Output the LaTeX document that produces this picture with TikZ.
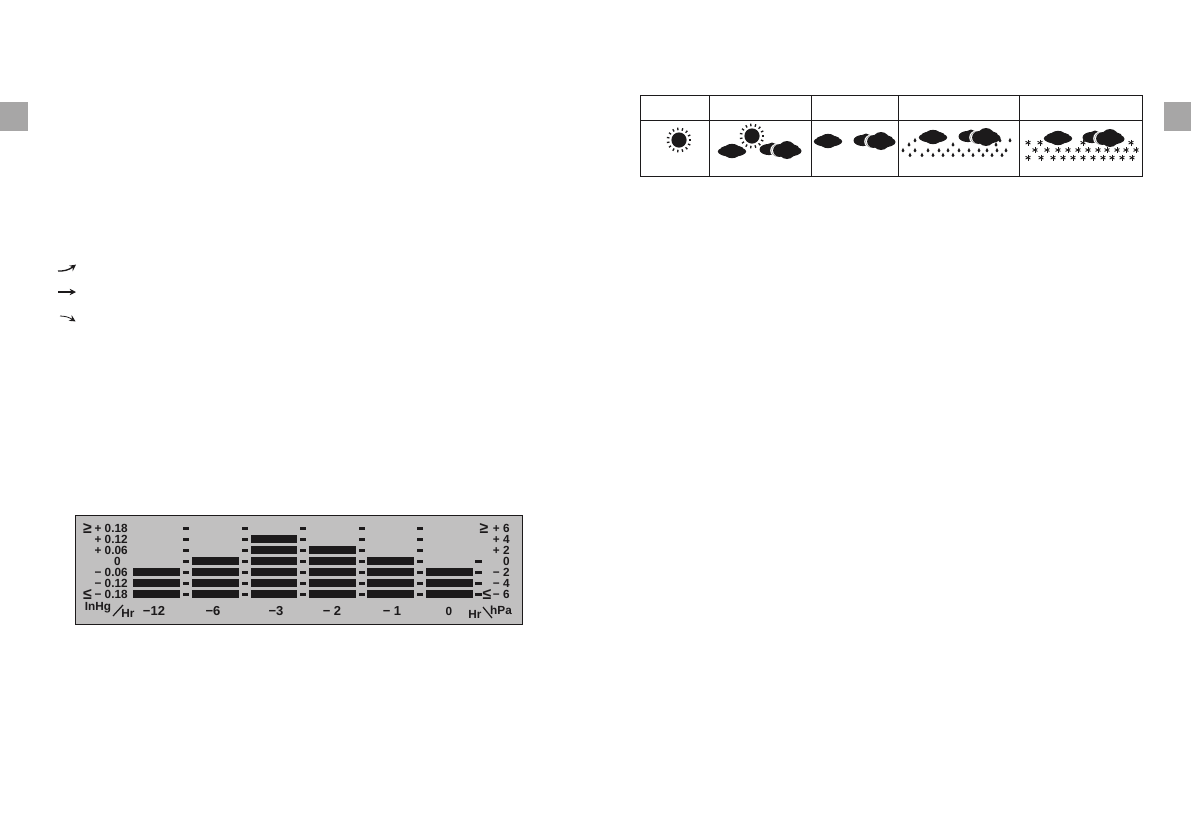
\documentclass[tikz,border=0pt]{standalone}
\usepackage{fontspec}
\setmainfont{Liberation Sans}
\usepackage{xcolor}
\usetikzlibrary{arrows.meta,positioning,calc,bending}
\definecolor{tabgray}{HTML}{A7A6A6}
\definecolor{lcdgray}{HTML}{C1C0C0}
\definecolor{inkblack}{HTML}{1C1A1B}
\tikzset{
  sunicon/.pic={
    \fill[inkblack] (0,0) circle[radius=7.6];
    \foreach \a in {0,24,...,336}
      \draw[inkblack,line width=0.75pt] (\a:9.8) -- (\a:12.4);
  },
  cloudicon/.pic={
    \fill[inkblack] (0,0.5) ellipse[x radius=14.2,y radius=5.2];
    \fill[inkblack] (0,0) ellipse[x radius=9,y radius=7.2];
    \fill[inkblack] (-7,0) circle[radius=5];
    \fill[inkblack] (7,0) circle[radius=5];
  },
  cloudmoonicon/.pic={
    % hidden cloud, then the crescent, then the big cloud
    \fill[inkblack] (-18,-0.5) ellipse[x radius=9.5,y radius=5.6];
    \fill[inkblack] (-15,-2) circle[radius=5.5];
    \fill[white] (-10,0.5) circle[radius=6.8];
    \fill[gray] (-9.4,0.5) circle[radius=6.2];
    \fill[white] (-9,0.5) circle[radius=6];
    \fill[inkblack] (-7.5,0.5) circle[radius=6.4];
    \fill[inkblack] (1,1) ellipse[x radius=13.6,y radius=5.6];
    \fill[inkblack] (0,0) ellipse[x radius=8.8,y radius=9];
    \fill[inkblack] (7,0) circle[radius=5.5];
  },
  dropicon/.pic={
    \fill[inkblack] (0,-2.8) -- (1.5,0.1) arc[start angle=0,end angle=180,radius=1.5] -- cycle;
  },
  flakeicon/.pic={
    \fill[inkblack!70] (0,0) circle[radius=1];
    \foreach \a in {30,90,150}
      \draw[inkblack,line width=0.5pt] (\a:-2.8) -- (\a:2.8);
  },
  lcdtext/.style={font=\bfseries\fontsize{6.7}{7}\selectfont,text=inkblack,inner sep=0pt},
  leftval/.style={lcdtext,anchor=east},
  relsign/.style={lcdtext,font=\bfseries\fontsize{9}{9}\selectfont},
  hrvalue/.style={lcdtext,font=\bfseries\fontsize{7.4}{8}\selectfont},
  gridline/.style={inkblack,line width=0.5pt},
  trendarrow/.style={-{Stealth[length=3.6pt,width=3.6pt,bend]},inkblack,line width=0.75pt}
}
\begin{document}
\begin{tikzpicture}[x=0.02cm,y=-0.02cm]
  \useasboundingbox (0,0) rectangle (1191,822);
  % page tabs
  \fill[tabgray] (0,102) rectangle (28,131);
  \fill[tabgray] (1164,102) rectangle (1191,131);
  % trend arrows
  \coordinate (up0) at (58,271);
  \coordinate (up1) at (76,264.5);
  \coordinate (fl0) at (58,292);
  \coordinate (fl1) at (76,292);
  \coordinate (dn0) at (60,316);
  \coordinate (dn1) at (75.5,321.5);
  \draw[trendarrow] (up0) to[bend right=22] (up1);
  \draw[trendarrow] (fl0) -- (fl1);
  \draw[trendarrow,line width=0.45pt] (dn0) to[bend left=18] (dn1);
  % forecast table
  \draw[gridline] (640,95.5) rectangle (1142,176);
  \draw[gridline] (640,120) -- (1142,120);
  \foreach \x in {709,811,898,1019}
    \draw[gridline] (\x,95.5) -- (\x,176);
  \pic at (679,140) {sunicon};
  \pic at (752,136) {sunicon};
  \pic at (732,151) {cloudicon};
  \pic at (787,150) {cloudmoonicon};
  \pic at (828,141) {cloudicon};
  \pic at (881,141) {cloudmoonicon};
  \pic at (933,137) {cloudicon};
  \pic at (986,137) {cloudmoonicon};
  \pic at (1058,138) {cloudicon};
  \pic at (1110,138) {cloudmoonicon};
  % rain
  \foreach \x/\y in {915/140.7,1000/140.7,1010/140.7,909/145,953/145,996/145}
    \pic at (\x,\y) {dropicon};
  \foreach \x in {903,915,928,939,948,959,969,979,987,997,1006}
    \pic at (\x,150.7) {dropicon};
  \foreach \x in {910,922,933,943,953,963,973,983,992,1002}
    \pic at (\x,155.5) {dropicon};
  % snow
  \foreach \x in {1028,1040,1083,1131}
    \pic at (\x,142.7) {flakeicon};
  \foreach \x in {1035,1047,1058,1068,1078,1088,1098,1107,1117,1126,1136}
    \pic at (\x,150) {flakeicon};
  \foreach \x in {1028,1041,1053,1063,1073,1083,1093,1103,1112,1122,1132}
    \pic at (\x,157.7) {flakeicon};
  % barometer display
  \fill[lcdgray] (75,515) rectangle (522,624);
  \draw[inkblack,line width=0.55pt] (75,515) rectangle (522,624);
  % bars: left edge / right edge / first row
  \foreach \l/\r/\k in {133/180/5,192/239/4,251/297/2,309/356/3,367/414/4,426/473/5}
    \foreach \n in {\k,...,7}
      \fill[inkblack] (\l,{517+11*\n-3.6}) rectangle (\r,{517+11*\n+3.6});
  % ticks between the bars
  \foreach \l/\r/\k in {183/189/1,241.5/248/1,300/306/1,359/365/1,417/423/1,475/482/4}
    \foreach \n in {\k,...,7}
      \fill[inkblack] (\l,{517+11*\n-1.5}) rectangle (\r,{517+11*\n+1.5});
  % scale on the left
  \node[leftval] (a1) at (128,528.3) {+ 0.18};
  \node[leftval] (a2) at (128,539.3) {+ 0.12};
  \node[leftval] (a3) at (128,550.5) {+ 0.06};
  \node[leftval] (a4) at (121,561.7) {0};
  \node[leftval] (a5) at (128,572.5) {− 0.06};
  \node[leftval] (a6) at (128,583.5) {− 0.12};
  \node[leftval] (a7) at (128,594.5) {− 0.18};
  \node[relsign] (age) at (87.5,528.3) {≥};
  \node[relsign] (ale) at (87.5,594.5) {≤};
  % scale on the right
  \node[leftval] (b1) at (510,528.3) {+ 6};
  \node[leftval] (b2) at (510,539.3) {+ 4};
  \node[leftval] (b3) at (510,550.5) {+ 2};
  \node[leftval] (b4) at (510,561.7) {0};
  \node[leftval] (b5) at (510,572.5) {− 2};
  \node[leftval] (b6) at (510,583.5) {− 4};
  \node[leftval] (b7) at (510,594.5) {− 6};
  \node[relsign] (bge) at (484,528.3) {≥};
  \node[relsign] (ble) at (487,594.5) {≤};
  % hours
  \node[hrvalue] (h12) at (154,611) {−12};
  \node[hrvalue] (h6) at (213,611) {−6};
  \node[hrvalue] (h3) at (276,611) {−3};
  \node[hrvalue] (h2) at (332,611) {− 2};
  \node[hrvalue] (h1) at (392,611) {− 1};
  \node[lcdtext] (h0) at (449,611) {0};
  % units
  \node[lcdtext] (inhg) at (98,607.5) {InHg};
  \node[lcdtext] (hrl) at (128,613.5) {Hr};
  \node[lcdtext] (hrr) at (475,614) {Hr};
  \node[lcdtext] (hpa) at (501,610) {hPa};
  \coordinate (sl0) at (113,616);
  \coordinate (sl1) at (123,605);
  \coordinate (bs0) at (483,607);
  \coordinate (bs1) at (492,618);
  \draw[inkblack,line width=0.7pt] (sl0) -- (sl1);
  \draw[inkblack,line width=0.7pt] (bs0) -- (bs1);
\end{tikzpicture}
\end{document}
